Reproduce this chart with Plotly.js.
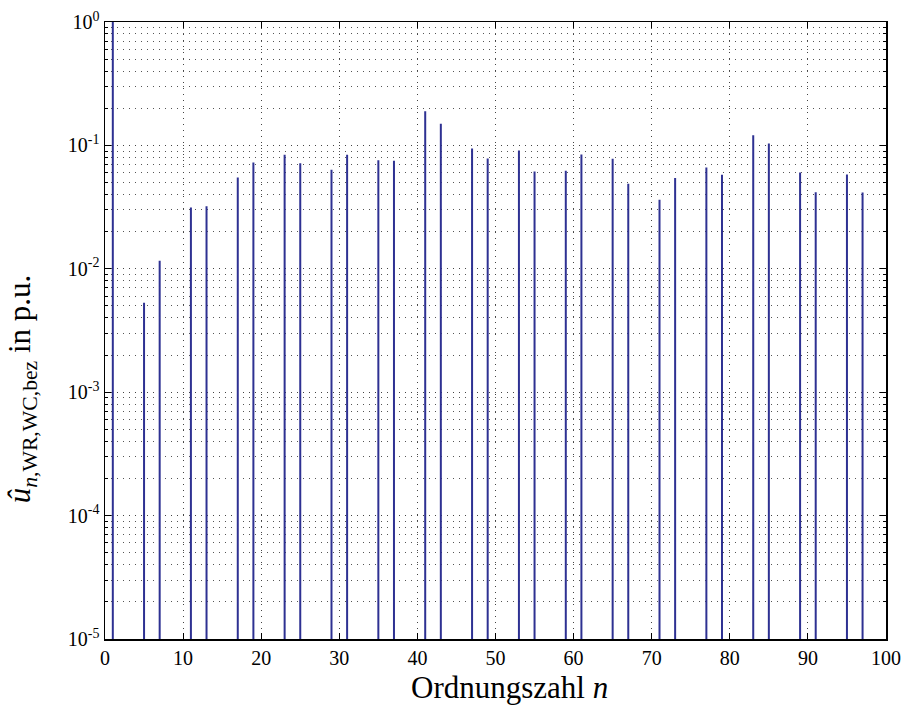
<!DOCTYPE html>
<html>
<head>
<meta charset="utf-8">
<script src="https://cdn.plot.ly/plotly-3.0.1.min.js"></script>
<style>html,body{margin:0;padding:0;background:#fff;}#chart{width:902px;height:708px;}</style>
</head>
<body>
<div id="chart"></div>
<script>
// Harmonic orders
const orders = [1, 5, 7, 11, 13, 17, 19, 23, 25, 29, 31, 35, 37, 41, 43, 47, 49, 53, 55, 59, 61, 65, 67, 71, 73, 77, 79, 83, 85, 89, 91, 95, 97];
// Amplitudes in p.u.
const amplitudes = [1.0, 0.0053, 0.0116, 0.0314, 0.0322, 0.0549, 0.0727, 0.0839, 0.0717, 0.0634, 0.0839,
  0.0759, 0.0750, 0.189, 0.150, 0.0945, 0.0783, 0.0910, 0.0614, 0.0622, 0.0845,
  0.0779, 0.0490, 0.0363, 0.0545, 0.0662, 0.0577, 0.1206, 0.1038, 0.0602, 0.0417, 0.0581, 0.0415];
const yTickVals = [1e-5, 1e-4, 1e-3, 1e-2, 1e-1, 1];
const yTickText = ["10<sup>-5</sup>", "10<sup>-4</sup>", "10<sup>-3</sup>", "10<sup>-2</sup>", "10<sup>-1</sup>", "10<sup>0</sup>"];
const xTickVals = [0, 10, 20, 30, 40, 50, 60, 70, 80, 90, 100];
const xTitle = "Ordnungszahl <i>n</i>";
const yTitle = "<i>û</i><sub><i>n</i>,WR,WC,bez</sub> in p.u.";

const yFloor = 1e-5;
const sx = [], sy = [];
orders.forEach((n, i) => { sx.push(n, n, null); sy.push(yFloor, amplitudes[i], null); });

const fam = "'Liberation Serif', 'Times New Roman', Times, serif";
const font = {family: fam, color: "#000"};
const gridDash = "1px,5px";
const data = [{
  type: "scatter", mode: "lines", x: sx, y: sy,
  line: {color: "#2e3192", width: 2}, hoverinfo: "skip", showlegend: false, cliponaxis: true
}];
const layout = {
  width: 902, height: 708,
  margin: {l: 105, r: 16, t: 22, b: 69, pad: 0},
  paper_bgcolor: "#fff", plot_bgcolor: "#fff",
  font: Object.assign({size: 20}, font),
  showlegend: false,
  xaxis: {
    range: [0, 100], tickvals: xTickVals, ticktext: xTickVals.map(String),
    ticks: "inside", ticklen: 6, tickwidth: 1, tickcolor: "#000",
    showline: true, linecolor: "#000", linewidth: 1.5, mirror: "ticks",
    showgrid: true, gridcolor: "#444", griddash: gridDash, gridwidth: 1,
    zeroline: false, tickfont: Object.assign({size: 20}, font),
    automargin: false
  },
  yaxis: {
    type: "log", range: [-5, 0], tickvals: yTickVals, ticktext: yTickText,
    ticks: "inside", ticklen: 6, tickwidth: 1, tickcolor: "#000",
    showline: true, linecolor: "#000", linewidth: 1.5, mirror: "ticks",
    showgrid: true, gridcolor: "#444", griddash: gridDash, gridwidth: 1,
    zeroline: false, tickfont: Object.assign({size: 20}, font),
    minor: {dtick: "D1", ticks: "inside", ticklen: 3, tickcolor: "#000", showgrid: true, gridcolor: "#555", griddash: gridDash, gridwidth: 1},
    automargin: false
  },
  annotations: [
    {text: xTitle, xref: "paper", yref: "paper", x: 0.518, y: -0.108, xanchor: "center", yanchor: "bottom",
     borderpad: 0, showarrow: false, font: Object.assign({size: 31}, font)},
    {text: yTitle, xref: "paper", yref: "paper", x: -0.106, y: 0.405, xanchor: "center", yanchor: "middle",
     textangle: -90, showarrow: false, font: Object.assign({size: 31}, font)}
  ]
};
Plotly.newPlot("chart", data, layout, {displayModeBar: false, staticPlot: true});
</script>
</body>
</html>
